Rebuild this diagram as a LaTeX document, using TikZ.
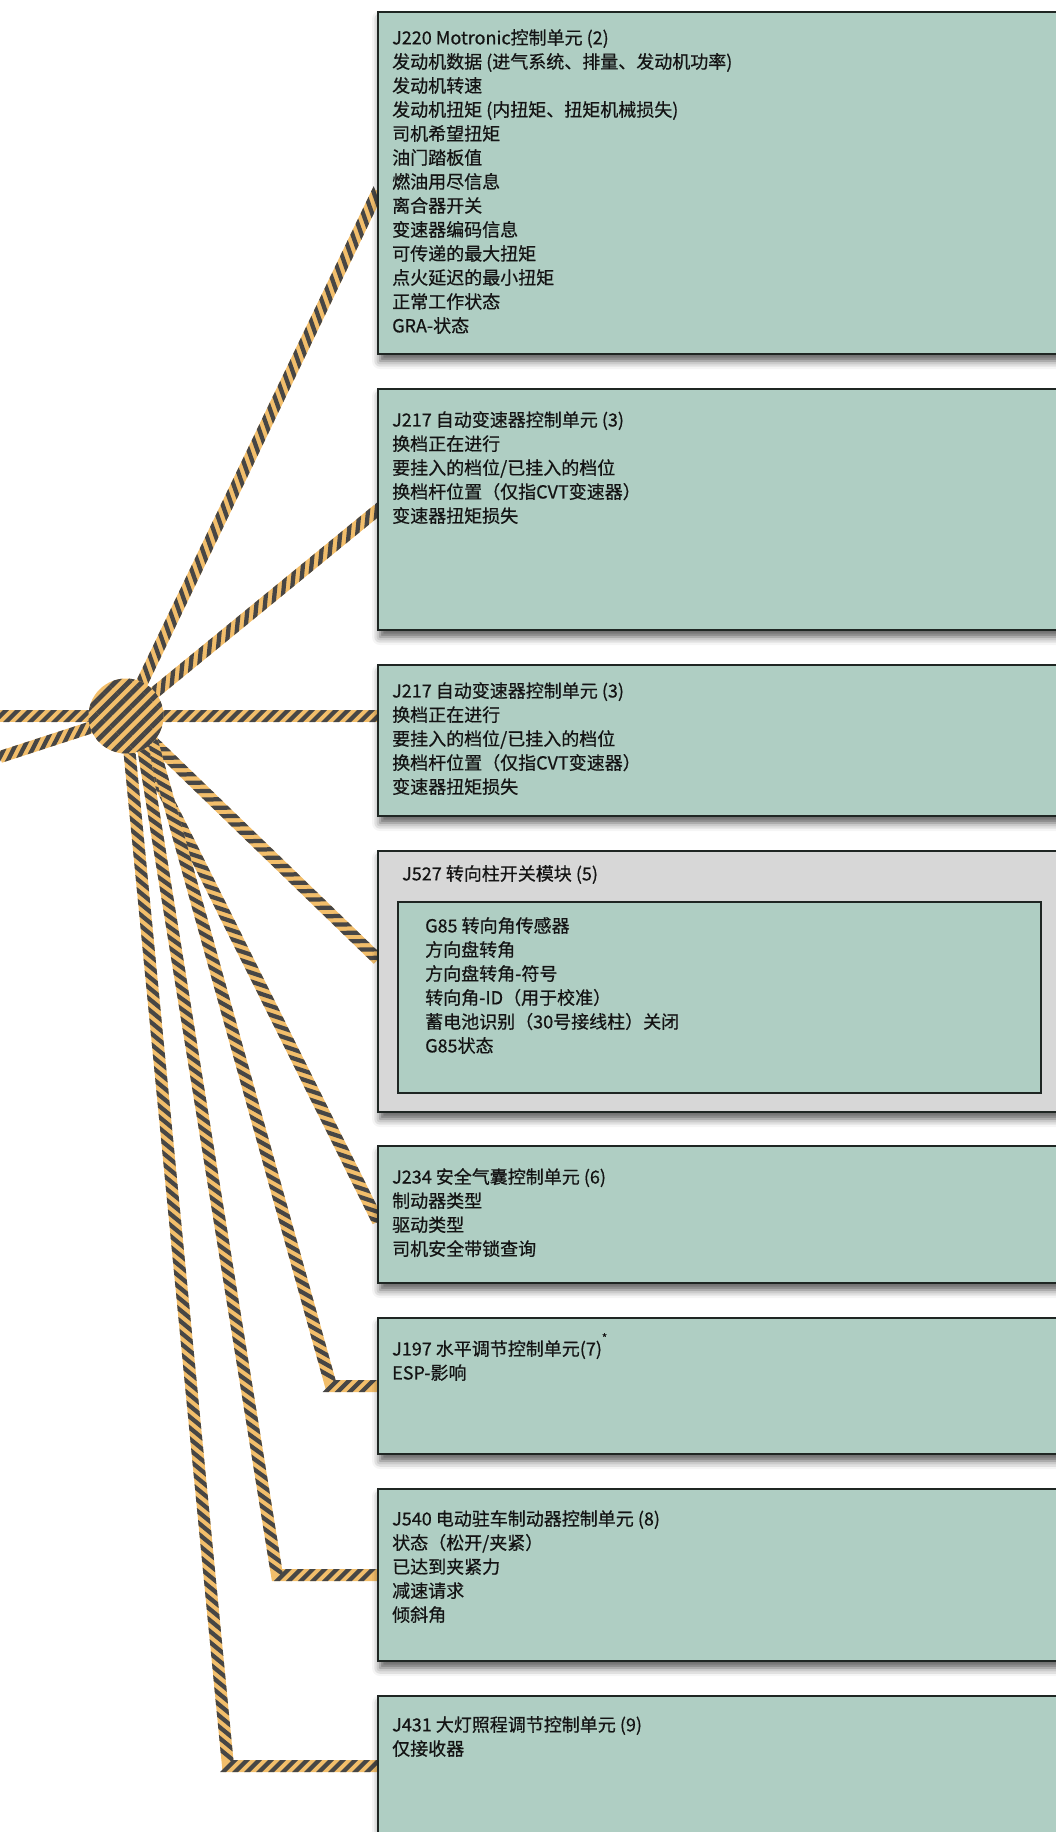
\documentclass[tikz,border=0pt]{standalone}
\usepackage{fontspec}
\newfontfamily\cjkfont{Noto Sans CJK SC}[FakeBold=0.6]
\usetikzlibrary{calc,backgrounds,decorations.markings,patterns.meta,shadows.blur}

\definecolor{unitfill}{HTML}{AFCEC3}
\definecolor{modfill}{HTML}{D7D7D7}
\definecolor{unitline}{HTML}{1F2623}
\definecolor{wireorange}{HTML}{F2BE6B}
\definecolor{wiredark}{HTML}{474645}
\definecolor{textdark}{HTML}{141414}

\begin{document}
\begin{tikzpicture}[
        x=1pt, y=-1pt,
        unit/.style={
            rectangle,
            draw=unitline,
            line width=2pt,
            fill=unitfill,
            minimum width=684pt,
            inner sep=0pt,
            outer sep=0pt,
            anchor=north west,
            blur shadow={shadow xshift=2pt, shadow yshift=-7pt, shadow blur radius=8pt, shadow opacity=65}
        },
        module/.style={
            unit,
            fill=modfill
        },
        sensor/.style={
            rectangle,
            draw=unitline,
            line width=2pt,
            fill=unitfill,
            inner sep=0pt,
            anchor=north west
        },
        info/.style={
            anchor=north west,
            align=left,
            inner sep=0pt,
            text=textdark,
            font=\cjkfont\fontsize{18pt}{24pt}\selectfont
        },
        wire/.style={
            draw=wireorange,
            line width=12pt,
            line join=miter,
            postaction={decorate, decoration={markings,
                mark=between positions 0 and 1 step 12pt with {
                    \fill[wiredark] (-9pt,-6pt) -- (-3pt,-6pt) -- (9pt,6pt) -- (3pt,6pt) -- cycle;}}}
        },
        hubdisc/.style={
            circle,
            minimum size=75pt,
            inner sep=0pt,
            fill=wireorange,
            postaction={pattern={Lines[angle=45, distance=9.5pt, line width=4.8pt]}, pattern color=wiredark}
        }
    ]

        \useasboundingbox (0,0) rectangle (1056,1832);

        % control units
        \node[unit, minimum height=342pt] (j220) at (378,12) {};
        \node[unit, minimum height=241pt] (j217a) at (378,389) {};
        \node[unit, minimum height=151pt] (j217b) at (378,665) {};
        \node[module, minimum height=261pt] (j527) at (378,851) {};
        \node[sensor, minimum width=643pt, minimum height=191pt] (g85) at (397,901) {};
        \node[unit, minimum height=137pt] (j234) at (378,1146) {};
        \node[unit, minimum height=136pt] (j197) at (378,1318) {};
        \node[unit, minimum height=172pt] (j540) at (378,1489) {};
        \node[unit, minimum height=140pt] (j431) at (378,1696) {};

        \node[info] (j220txt) at ($(j220.north west)+(14,17)$) {J220 Motronic控制单元 (2)\\发动机数据 (进气系统、排量、发动机功率)\\发动机转速\\发动机扭矩 (内扭矩、扭矩机械损失)\\司机希望扭矩\\油门踏板值\\燃油用尽信息\\离合器开关\\变速器编码信息\\可传递的最大扭矩\\点火延迟的最小扭矩\\正常工作状态\\GRA-状态};
        \node[info] (j217atxt) at ($(j217a.north west)+(14,22)$) {J217 自动变速器控制单元 (3)\\换档正在进行\\要挂入的档位/已挂入的档位\\换档杆位置（仅指CVT变速器）\\变速器扭矩损失};
        \node[info] (j217btxt) at ($(j217b.north west)+(14,17)$) {J217 自动变速器控制单元 (3)\\换档正在进行\\要挂入的档位/已挂入的档位\\换档杆位置（仅指CVT变速器）\\变速器扭矩损失};
        \node[info] (j527txt) at ($(j527.north west)+(24,14)$) {J527 转向柱开关模块 (5)};
        \node[info] (g85txt) at ($(g85.north west)+(28,16)$) {G85 转向角传感器\\方向盘转角\\方向盘转角-符号\\转向角-ID（用于校准）\\蓄电池识别（30号接线柱）关闭\\G85状态};
        \node[info] (j234txt) at ($(j234.north west)+(14,22)$) {J234 安全气囊控制单元 (6)\\制动器类型\\驱动类型\\司机安全带锁查询};
        \node[info] (j197txt) at ($(j197.north west)+(14,15)$) {J197 水平调节控制单元(7)\raisebox{0.75em}{\fontsize{11pt}{11pt}\selectfont *}\\ESP-影响};
        \node[info] (j540txt) at ($(j540.north west)+(14,21)$) {J540 电动驻车制动器控制单元 (8)\\状态（松开/夹紧）\\已达到夹紧力\\减速请求\\倾斜角};
        \node[info] (j431txt) at ($(j431.north west)+(14,20)$) {J431 大灯照程调节控制单元 (9)\\仅接收器};

        % wiring harness
        \coordinate (hub) at (126,716);
        \coordinate (inA) at (0,716);
        \coordinate (inB) at (0,757);
        \coordinate (k197) at (331,1386);
        \coordinate (k540) at (277,1575);
        \coordinate (k431) at (228,1766);

        \begin{scope}[on background layer]
            \draw[wire] (inA) -- (hub);
            \draw[wire] (inB) -- (hub);
            \draw[wire] (hub) -- ($(j220.west)+(0,8)$);
            \draw[wire] (hub) -- (j217a.west);
            \draw[wire] (hub) -- (hub -| j217b.west);
            \draw[wire] (hub) -- ($(j527.west)+(0,-22)$);
            \draw[wire] (hub) -- ($(j234.west)+(0,7)$);
            \draw[wire] ($(hub)+(19,0)$) -- (k197) -- (j197.west);
            \draw[wire] ($(hub)+(12,0)$) -- (k540) -- (j540.west);
            \draw[wire] (hub) -- (k431) -- (k431 -| j431.west);
        \end{scope}

        \node[hubdisc] (hubdot) at (hub) {};

    \end{tikzpicture}
\end{document}
